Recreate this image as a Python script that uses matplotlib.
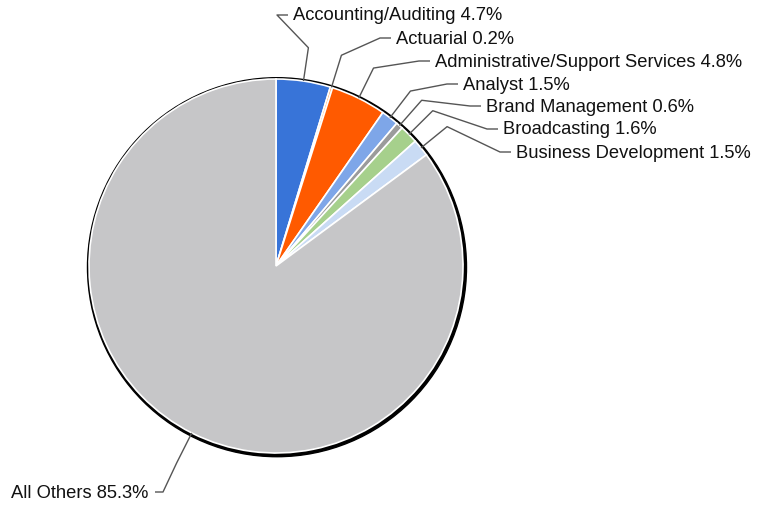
import numpy as np
import matplotlib
matplotlib.use("Agg")
import matplotlib.pyplot as plt
from matplotlib.patches import Circle

# Data
labels = ["Accounting/Auditing", "Actuarial", "Administrative/Support Services",
          "Analyst", "Brand Management", "Broadcasting", "Business Development",
          "All Others"]
shares = [4.7, 0.2, 4.8, 1.5, 0.6, 1.6, 1.5, 85.3]
colors = ["#3874d8", "#ff9a3c", "#ff5a00", "#7ea6e8", "#9b9b9b",
          "#a6d08c", "#c9dbf4", "#c6c6c8"]

# label anchor positions in pixels (left/right edge of text, vertical centre)
label_px = [(293, 16), (396, 39), (435, 62), (463, 85), (486, 107),
            (503, 130), (516, 153), (148, 493)]

W, H = 760, 508
CX, CY, R = 276, 266, 187  # pie centre / radius in pixels

plt.rcParams["font.family"] = ["Liberation Sans", "DejaVu Sans"]

fig = plt.figure(figsize=(W / 100, H / 100), dpi=100)
ax = fig.add_axes([0, 0, 1, 1])


def px(x, y):
    return (x - CX) / R, (CY - y) / R


# shadow / outline behind the pie
ax.add_patch(Circle((1.0 / R, -1.2 / R), 1 + 2.5 / R, color="black", zorder=1))

wedges, _ = ax.pie(shares, colors=colors, startangle=90, counterclock=False,
                   radius=1, center=(0, 0), frame=True,
                   wedgeprops=dict(edgecolor="white", linewidth=1.2))
for w in wedges:
    w.set_zorder(2)

ax.set_xlim(-CX / R, (W - CX) / R)
ax.set_ylim(-(H - CY) / R, CY / R)
ax.set_aspect("equal")
ax.axis("off")

lc = "#555555"
for i, (lab, val, w) in enumerate(zip(labels, shares, wedges)):
    ang = np.deg2rad((w.theta1 + w.theta2) / 2)
    ex, ey = np.cos(ang), np.sin(ang)
    elx, ely = 1.18 * ex, 1.18 * ey
    tx, ty = label_px[i]
    text = f"{lab} {val:.1f}%"
    if ex >= 0:
        p1 = px(tx - 16, ty - 1)
        p2 = px(tx - 5, ty - 1)
        ha = "left"
    else:
        p1 = px(tx + 15, ty - 1)
        p2 = px(tx + 7, ty - 1)
        ha = "right"
    ax.text(*px(tx, ty), text, ha=ha, va="center", fontsize=13.2,
            color="#111111")
    ax.plot([ex, elx, p1[0], p2[0]], [ey, ely, p1[1], p2[1]], color=lc,
            lw=1.0, zorder=3, solid_capstyle="butt")

fig.savefig("out.png", dpi=100, facecolor="white")
